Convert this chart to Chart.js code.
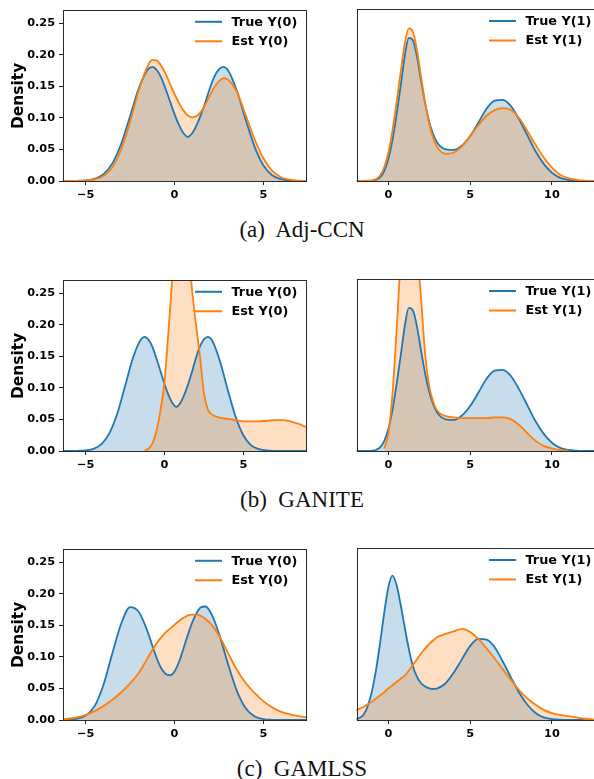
<!DOCTYPE html>
<html>
<head>
<meta charset="utf-8">
<script src="https://cdn.jsdelivr.net/npm/chart.js@4.4.0/dist/chart.umd.min.js"></script>
<style>
  body { margin: 0; width: 594px; height: 779px; overflow: hidden; background: #fff; position: relative; }
  canvas { position: absolute; }
  .cap { position: absolute; left: 0; width: 604px; text-align: center; white-space: pre;
         font: 23px "Liberation Serif", "Times New Roman", serif; line-height: 26px; color: #111; }
</style>
</head>
<body>
<canvas id="a0" width="310" height="215" style="left:0;top:0"></canvas>
<canvas id="a1" width="300" height="215" style="left:310px;top:0"></canvas>
<div class="cap" style="top:217px">(a)  Adj-CCN</div>
<canvas id="b0" width="310" height="215" style="left:0;top:270px"></canvas>
<canvas id="b1" width="300" height="215" style="left:310px;top:270px"></canvas>
<div class="cap" style="top:487px">(b)  GANITE</div>
<canvas id="c0" width="310" height="215" style="left:0;top:539px"></canvas>
<canvas id="c1" width="300" height="215" style="left:310px;top:539px"></canvas>
<div class="cap" style="top:756px">(c)  GAMLSS</div>

<script>
// evaluation grids for the density curves
var xY0 = [-6.5, -6, -5.5, -5, -4.5, -4, -3.5, -3, -2.5, -2, -1.5, -1.25, -1, -0.75, -0.5, -0.25,
           0, 0.25, 0.5, 0.75, 1, 1.25, 1.5, 1.75, 2, 2.25, 2.5, 2.75, 3, 3.5, 4, 4.5, 5, 5.5,
           6, 6.5, 7, 7.5, 8, 8.5, 9, 9.5];
var xY1 = [-2, -1.75, -1.5, -1.25, -1, -0.75, -0.5, -0.25, 0, 0.25, 0.5, 0.75, 1, 1.25, 1.5,
           1.75, 2, 2.25, 2.5, 2.75, 3, 3.5, 4, 4.5, 5, 5.5, 6, 6.5, 7, 7.5, 8, 8.5, 9, 9.5,
           10, 10.5, 11, 11.5, 12, 12.5, 13];

// true outcome densities (same test set for Adj-CCN and GANITE)
var trueY0 = [0, 0.0001, 0.0003, 0.001, 0.0035, 0.011, 0.028, 0.059, 0.103, 0.148, 0.177, 0.181,
              0.176, 0.164, 0.146, 0.126, 0.106, 0.089, 0.076, 0.070, 0.076, 0.089, 0.106, 0.126,
              0.148, 0.166, 0.177, 0.181, 0.176, 0.144, 0.098, 0.055, 0.025, 0.009, 0.003, 0.0008,
              0.0002, 0, 0, 0, 0, 0];
var trueY1 = [0, 0, 0, 0.0001, 0.0005, 0.002, 0.006, 0.016, 0.035, 0.065, 0.105, 0.150, 0.197,
              0.226, 0.222, 0.196, 0.158, 0.122, 0.093, 0.073, 0.060, 0.050, 0.049, 0.056, 0.071,
              0.092, 0.114, 0.127, 0.128, 0.118, 0.097, 0.072, 0.047, 0.027, 0.013, 0.005, 0.0017,
              0.0005, 0.0001, 0, 0];

// Adj-CCN estimates
var adjEstY0 = [0, 0.0001, 0.0002, 0.0007, 0.0025, 0.008, 0.022, 0.050, 0.094, 0.145, 0.183, 0.192,
                0.191, 0.183, 0.170, 0.154, 0.138, 0.124, 0.112, 0.104, 0.101, 0.103, 0.110, 0.122,
                0.136, 0.149, 0.158, 0.163, 0.161, 0.142, 0.105, 0.067, 0.036, 0.016, 0.006, 0.002,
                0.0006, 0.0001, 0, 0, 0, 0];
var adjEstY1 = [0, 0, 0.0001, 0.0004, 0.001, 0.003, 0.009, 0.022, 0.045, 0.080, 0.124, 0.172, 0.217,
                0.241, 0.236, 0.206, 0.164, 0.123, 0.090, 0.067, 0.053, 0.043, 0.045, 0.055, 0.071,
                0.088, 0.103, 0.112, 0.115, 0.112, 0.099, 0.079, 0.057, 0.037, 0.021, 0.010, 0.0045,
                0.0018, 0.0006, 0.0002, 0];

// GANITE estimates (null outside the kde support)
var ganEstY0 = [null, null, null, null, null, null, null, null, null, null, null, 0.001,
                0.004, 0.013, 0.033, 0.065, 0.110, 0.190, 0.275, 0.335, 0.360, 0.355, 0.320, 0.255,
                0.200, 0.150, 0.092, 0.066, 0.058, 0.053, 0.051, 0.049, 0.047, 0.047, 0.047, 0.048,
                0.049, 0.049, 0.047, 0.043, 0.038, 0.033];
var ganEstY1 = [null, null, null, null, null, null, null, 0.004, 0.028, 0.090, 0.190, 0.300, 0.370,
                0.390, 0.365, 0.315, 0.240, 0.152, 0.102, 0.077, 0.063, 0.055, 0.053, 0.052, 0.052,
                0.052, 0.052, 0.053, 0.053, 0.050, 0.041, 0.028, 0.016, 0.008, 0.004, 0.0015, 0.0004,
                null, null, null, null];

// GAMLSS test set and estimates
var gamTrueY0 = [0, 0.0004, 0.002, 0.007, 0.022, 0.056, 0.106, 0.153, 0.179, 0.171, 0.139, 0.118,
                 0.098, 0.082, 0.073, 0.071, 0.077, 0.092, 0.113, 0.135, 0.155, 0.170, 0.179, 0.180,
                 0.172, 0.157, 0.137, 0.114, 0.090, 0.047, 0.019, 0.006, 0.0015, 0.0003, 0, 0,
                 0, 0, 0, 0, 0, 0];
var gamEstY0 = [0.001, 0.002, 0.004, 0.008, 0.014, 0.022, 0.032, 0.044, 0.058, 0.075, 0.099, 0.111,
                0.122, 0.131, 0.139, 0.145, 0.151, 0.157, 0.162, 0.166, 0.167, 0.167, 0.165, 0.160,
                0.154, 0.145, 0.134, 0.121, 0.107, 0.080, 0.059, 0.043, 0.030, 0.020, 0.013, 0.009,
                0.006, 0.004, 0.003, 0.002, 0.001, 0.001];
var gamTrueY1 = [0.001, 0.0035, 0.009, 0.023, 0.046, 0.080, 0.123, 0.170, 0.210, 0.228, 0.213, 0.182,
                 0.146, 0.112, 0.085, 0.068, 0.058, 0.053, 0.050, 0.049, 0.050, 0.058, 0.075, 0.096,
                 0.117, 0.128, 0.127, 0.115, 0.092, 0.067, 0.043, 0.024, 0.011, 0.004, 0.0014, 0.0004,
                 0.0001, 0, 0, 0, 0];
var gamEstY1 = [0.015, 0.018, 0.021, 0.025, 0.029, 0.034, 0.039, 0.044, 0.050, 0.055, 0.060, 0.065,
                0.070, 0.078, 0.087, 0.096, 0.105, 0.113, 0.120, 0.126, 0.131, 0.136, 0.140, 0.144,
                0.139, 0.128, 0.113, 0.097, 0.080, 0.063, 0.047, 0.034, 0.024, 0.016, 0.011, 0.008,
                0.006, 0.004, 0.002, 0.001, 0.0005];

var yTicks = [0, 0.05, 0.10, 0.15, 0.20, 0.25];
var xTicksY0 = [-5, 0, 5];
var xTicksY1 = [0, 5, 10];
var yMax = 0.27;

var BLUE = '#1f77b4', ORANGE = '#ff7f0e';
var FONT = '"DejaVu Sans", Verdana, sans-serif';

// box around the axes, like matplotlib spines
var framePlugin = {
    id: 'frame',
    afterDraw: function(chart) {
        var a = chart.chartArea, ctx = chart.ctx;
        ctx.save();
        ctx.strokeStyle = '#2b2b2b';
        ctx.lineWidth = 1;
        ctx.strokeRect(Math.round(a.left) + 0.5, Math.round(a.top) - 0.5,
                       Math.round(a.right - a.left) - 1, Math.round(a.bottom - a.top) + 1);
        ctx.restore();
    }
};

// legend in the upper right corner of the axes
var cornerLegend = {
    id: 'cornerLegend',
    afterDraw: function(chart) {
        var a = chart.chartArea, ctx = chart.ctx;
        ctx.save();
        ctx.font = 'bold 12.8px ' + FONT;
        ctx.textBaseline = 'middle';
        ctx.fillStyle = '#000';
        chart.data.datasets.forEach(function(ds, i) {
            var y = a.top + 11 + i * 19.5;
            ctx.strokeStyle = ds.borderColor;
            ctx.lineWidth = 2;
            ctx.beginPath();
            ctx.moveTo(a.right - 112, y);
            ctx.lineTo(a.right - 85, y);
            ctx.stroke();
            ctx.fillText(ds.label, a.right - 75.5, y + 0.5);
        });
        ctx.restore();
    }
};

function points(xs, ys) {
    return xs.map(function(x, i) { return {x: x, y: ys[i]}; });
}

function curve(label, xs, ys, color, fill, order) {
    return {
        label: label,
        data: points(xs, ys),
        borderColor: color,
        backgroundColor: fill,
        fill: 'origin',
        borderWidth: 1.8,
        pointRadius: 0,
        cubicInterpolationMode: 'monotone',
        order: order
    };
}

function makeChart(id, p) {
    var tickFont = {family: FONT, size: 11.3, weight: 'bold'};
    var tickMarks = {display: true, drawOnChartArea: false, drawTicks: true, tickLength: 4, color: '#222'};
    return new Chart(document.getElementById(id), {
        type: 'line',
        data: {
            datasets: [
                curve('True ' + p.name, p.x, p.truth, BLUE, 'rgba(31,119,180,0.25)', 1),
                curve('Est ' + p.name, p.x, p.est, ORANGE, 'rgba(255,127,14,0.25)', 0)
            ]
        },
        options: {
            responsive: false,
            animation: false,
            layout: {padding: {left: 0, right: p.left ? 3 : 9, top: 10, bottom: 0}},
            plugins: {
                legend: {display: false},
                tooltip: {enabled: false},
                filler: {drawTime: 'beforeDatasetsDraw'}
            },
            scales: {
                x: {
                    type: 'linear', min: p.min, max: p.max,
                    afterBuildTicks: function(s) { s.ticks = p.ticks.map(function(v) { return {value: v}; }); },
                    afterFit: function(s) { s.height = 34; },
                    grid: tickMarks,
                    border: {display: false},
                    ticks: {font: tickFont, color: '#000', padding: 3, maxRotation: 0,
                            callback: function(v) { return String(v).replace('-', '\u2212'); }}
                },
                y: {
                    min: 0, max: yMax,
                    afterBuildTicks: function(s) { s.ticks = yTicks.map(function(v) { return {value: v}; }); },
                    afterFit: function(s) { s.width = p.left ? 63 : 46.5; },
                    grid: {display: p.left, drawOnChartArea: false, drawTicks: true, tickLength: 4, color: '#222'},
                    border: {display: false},
                    ticks: {display: p.left, font: tickFont, color: '#000', padding: 4,
                            callback: function(v) { return v.toFixed(2); }},
                    title: {display: p.left, text: 'Density', color: '#000',
                            font: {family: FONT, size: 15.5, weight: 'bold'},
                            padding: {top: 10, bottom: 0}}
                }
            }
        },
        plugins: [framePlugin, cornerLegend]
    });
}

makeChart('a0', {name: 'Y(0)', left: true, x: xY0, truth: trueY0, est: adjEstY0, min: -6.28, max: 7.46, ticks: xTicksY0});
makeChart('a1', {name: 'Y(1)', left: false, x: xY1, truth: trueY1, est: adjEstY1, min: -1.95, max: 13.0, ticks: xTicksY1});
makeChart('b0', {name: 'Y(0)', left: true, x: xY0, truth: trueY0, est: ganEstY0, min: -6.44, max: 9.04, ticks: xTicksY0});
makeChart('b1', {name: 'Y(1)', left: false, x: xY1, truth: trueY1, est: ganEstY1, min: -1.95, max: 13.0, ticks: xTicksY1});
makeChart('c0', {name: 'Y(0)', left: true, x: xY0, truth: gamTrueY0, est: gamEstY0, min: -6.28, max: 7.46, ticks: xTicksY0});
makeChart('c1', {name: 'Y(1)', left: false, x: xY1, truth: gamTrueY1, est: gamEstY1, min: -1.95, max: 13.0, ticks: xTicksY1});
</script>
</body>
</html>
